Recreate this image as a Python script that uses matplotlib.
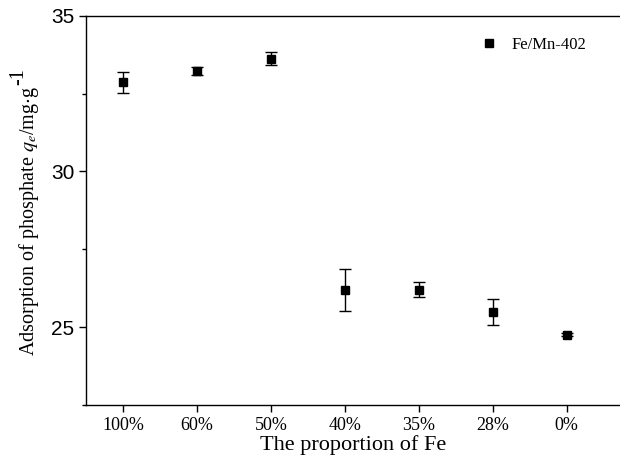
import matplotlib
matplotlib.use("Agg")
import matplotlib.pyplot as plt

categories = ["100%", "60%", "50%", "40%", "35%", "28%", "0%"]
qe = [32.86, 33.23, 33.62, 26.20, 26.20, 25.48, 24.76]
qe_err = [0.34, 0.12, 0.21, 0.68, 0.24, 0.41, 0.05]

plt.rcParams["mathtext.fontset"] = "stix"
serif = "Liberation Serif"
sans = "Liberation Sans"

fig = plt.figure(figsize=(6.2, 4.65), dpi=100)
ax = fig.add_axes([0.139, 0.129, 0.861, 0.837])

x = list(range(len(categories)))
ax.errorbar(x, qe, yerr=qe_err, fmt="none", ecolor="black",
            elinewidth=1, capsize=4, capthick=1)
ax.plot(x, qe, "s", color="black", ms=6, label="Fe/Mn-402")

ax.set_xlim(-0.5, 6.72)
ax.set_ylim(22.5, 35)
ax.set_yticks([25, 30, 35])
ax.set_yticks([22.5, 27.5, 32.5], minor=True)
ax.set_xticks(x)
ax.set_xticklabels(categories, fontfamily=serif, fontsize=13)
for t in ax.get_yticklabels():
    t.set_fontfamily(sans)
    t.set_fontsize(15)

ax.tick_params(axis="both", which="major", direction="out", length=5, width=1)
ax.tick_params(axis="y", which="minor", direction="out", length=3, width=1)
ax.spines["right"].set_visible(False)
for s in ["left", "bottom", "top"]:
    ax.spines[s].set_linewidth(1)

ax.set_xlabel("The proportion of Fe", fontfamily=serif, fontsize=16, labelpad=1)
ax.set_ylabel(r"Adsorption of phosphate $q_e$/mg$\cdot$g",
              fontfamily=serif, fontsize=14.5)
ax.yaxis.set_label_coords(-0.085, 0.473)

ax.legend(loc="upper right", bbox_to_anchor=(0.95, 0.962), borderaxespad=0,
          frameon=False, prop={"family": serif, "size": 12},
          handletextpad=0.8, handlelength=1.2)

# full-size raised "-1" after the y label
fig.canvas.draw()
bb = ax.yaxis.label.get_window_extent()
W, H = fig.bbox.width, fig.bbox.height
fig.text((bb.x1 - 13) / W, (bb.y1 + 1) / H, "-1", rotation=90,
         ha="right", va="bottom", fontfamily=serif, fontsize=14.5)

fig.savefig("out.png", dpi=100)
